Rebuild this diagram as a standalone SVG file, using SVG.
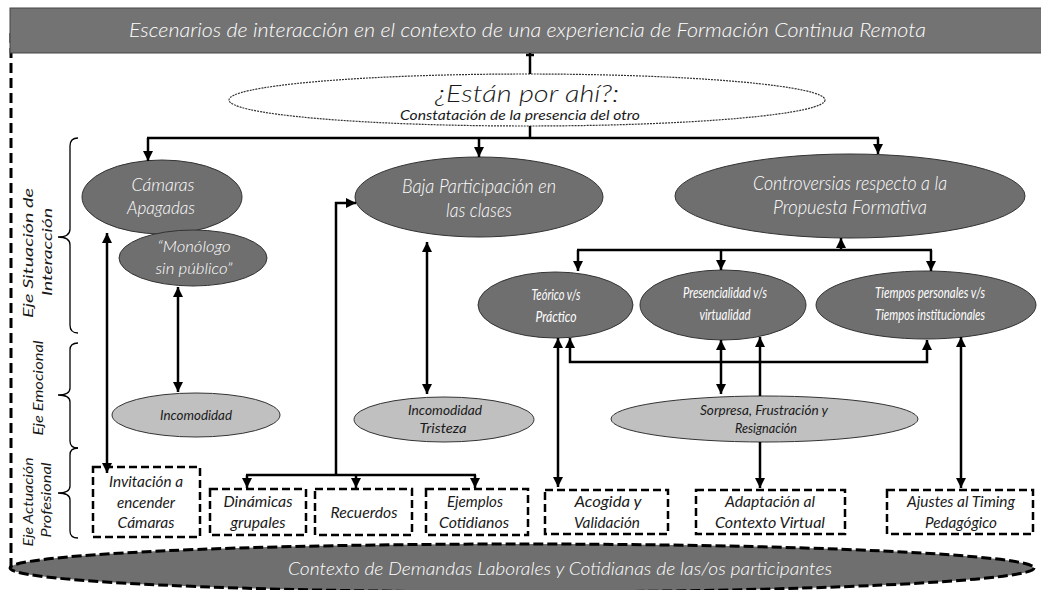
<svg xmlns="http://www.w3.org/2000/svg" width="1041" height="590" viewBox="0 0 1041 590">
<defs>
<style>
.t{font-family:Lato,"Open Sans","Liberation Sans",sans-serif;font-style:italic;text-anchor:middle}
.w{fill:#fff;font-weight:300}
.k{fill:#1a1a1a;font-weight:400}
.w4{font-weight:400}
.k3{font-weight:300}
.dark{fill:#6f6f6f;stroke:#333;stroke-width:1}
.light{fill:#c0c0c0;stroke:#333;stroke-width:1}
.box{fill:#fff;stroke:#000;stroke-width:2.5;stroke-dasharray:8 4}
.ln{fill:none;stroke:#000;stroke-width:2.5}
.br{fill:none;stroke:#000;stroke-width:1.3}
</style>
<marker id="ah" viewBox="0 0 10 10" refX="10" refY="5" markerWidth="10" markerHeight="10" markerUnits="userSpaceOnUse" orient="auto-start-reverse">
<path d="M0,0 L10,5 L0,10 z" fill="#000"/>
</marker>
</defs>
<rect x="0" y="0" width="1041" height="590" fill="#fff"/>

<!-- frame -->
<g id="frame">
<line x1="11" y1="33" x2="11" y2="567" stroke="#000" stroke-width="3" stroke-dasharray="10 5"/>
</g>

<!-- header -->
<g id="header">
<rect x="10" y="8" width="1040" height="45" fill="#737373" stroke="#444" stroke-width="1"/>
<text class="t w" x="527.5" y="37" font-size="19.5" textLength="797" lengthAdjust="spacingAndGlyphs">Escenarios de interacción en el contexto de una experiencia de Formación Continua Remota</text>
</g>

<!-- bottom context -->
<g id="contexto">
<ellipse cx="522" cy="568" rx="512" ry="24" fill="#6f6f6f" stroke="#000" stroke-width="3" stroke-dasharray="10 4"/>
<text class="t w" x="560" y="575" font-size="18" textLength="544" lengthAdjust="spacingAndGlyphs">Contexto de Demandas Laborales y Cotidianas de las/os participantes</text>
</g>

<!-- axis labels and braces -->
<g id="eje-situacion">
<path class="br" d="M78,138 Q70,138 70,146 L70,229 Q70,237 58,237 Q70,237 70,245 L70,325 Q70,333 78,333"/>
<text class="t k" font-size="14" transform="translate(33,253) rotate(-90)" textLength="130" lengthAdjust="spacingAndGlyphs">Eje Situación de</text>
<text class="t k" font-size="14" transform="translate(52,252) rotate(-90)" textLength="88" lengthAdjust="spacingAndGlyphs">Interacción</text>
</g>
<g id="eje-emocional">
<path class="br" d="M78,343 Q70,343 70,350 L70,388 Q70,395 58,395 Q70,395 70,402 L70,441 Q70,448 78,448"/>
<text class="t k" font-size="14" transform="translate(43,388) rotate(-90)" textLength="95" lengthAdjust="spacingAndGlyphs">Eje Emocional</text>
</g>
<g id="eje-actuacion">
<path class="br" d="M78,448 Q70,448 70,455 L70,486 Q70,493 58,493 Q70,493 70,500 L70,531 Q70,538 78,538"/>
<text class="t k" font-size="14" transform="translate(33,502) rotate(-90)" textLength="89" lengthAdjust="spacingAndGlyphs">Eje Actuación</text>
<text class="t k" font-size="14" transform="translate(51,500) rotate(-90)" textLength="75" lengthAdjust="spacingAndGlyphs">Profesional</text>
</g>

<!-- nodes -->
<g id="estan">
<ellipse cx="527" cy="100" rx="298" ry="26" fill="#fff" stroke="#333" stroke-width="1.2" stroke-dasharray="2 1"/>
<text class="t k k3" x="527" y="102" font-size="24" textLength="184" lengthAdjust="spacingAndGlyphs">¿Están por ahí?:</text>
<text class="t k" x="520" y="120" font-size="14" textLength="240" lengthAdjust="spacingAndGlyphs">Constatación de la presencia del otro</text>
</g>

<g id="camaras">
<ellipse class="dark" cx="162" cy="197" rx="80" ry="37"/>
<text class="t w" x="163" y="191" font-size="18" textLength="63" lengthAdjust="spacingAndGlyphs">Cámaras</text>
<text class="t w" x="161" y="214" font-size="18" textLength="68" lengthAdjust="spacingAndGlyphs">Apagadas</text>
</g>
<g id="monologo">
<ellipse class="dark" cx="193" cy="258" rx="74" ry="28"/>
<text class="t w" x="194" y="252" font-size="16" textLength="73" lengthAdjust="spacingAndGlyphs">“Monólogo</text>
<text class="t w" x="194" y="274" font-size="16" textLength="77" lengthAdjust="spacingAndGlyphs">sin público”</text>
</g>
<g id="baja">
<ellipse class="dark" cx="479" cy="197" rx="124" ry="40"/>
<text class="t w" x="479" y="193" font-size="19" textLength="154" lengthAdjust="spacingAndGlyphs">Baja Participación en</text>
<text class="t w" x="479" y="217" font-size="19" textLength="66" lengthAdjust="spacingAndGlyphs">las clases</text>
</g>
<g id="controversias">
<ellipse class="dark" cx="850" cy="196" rx="175" ry="42"/>
<text class="t w" x="850" y="190" font-size="19" textLength="194" lengthAdjust="spacingAndGlyphs">Controversias respecto a la</text>
<text class="t w" x="850" y="214" font-size="19" textLength="154" lengthAdjust="spacingAndGlyphs">Propuesta Formativa</text>
</g>
<g id="teorico">
<ellipse class="dark" cx="555.5" cy="305" rx="77.5" ry="33"/>
<text class="t w w4" x="556" y="300" font-size="15" textLength="49" lengthAdjust="spacingAndGlyphs">Teórico v/s</text>
<text class="t w w4" x="556" y="322" font-size="15" textLength="41" lengthAdjust="spacingAndGlyphs">Práctico</text>
</g>
<g id="presencialidad">
<ellipse class="dark" cx="723" cy="305" rx="83" ry="35"/>
<text class="t w w4" x="725" y="298" font-size="15" textLength="84" lengthAdjust="spacingAndGlyphs">Presencialidad v/s</text>
<text class="t w w4" x="725" y="320" font-size="15" textLength="51" lengthAdjust="spacingAndGlyphs">virtualidad</text>
</g>
<g id="tiempos">
<ellipse class="dark" cx="926" cy="305" rx="110" ry="34"/>
<text class="t w w4" x="930" y="298" font-size="15" textLength="110" lengthAdjust="spacingAndGlyphs">Tiempos personales v/s</text>
<text class="t w w4" x="930" y="320" font-size="15" textLength="110" lengthAdjust="spacingAndGlyphs">Tiempos institucionales</text>
</g>
<g id="incomodidad1">
<ellipse class="light" cx="196" cy="415" rx="84" ry="22"/>
<text class="t k" x="196" y="420" font-size="14" textLength="72" lengthAdjust="spacingAndGlyphs">Incomodidad</text>
</g>
<g id="incomodidad2">
<ellipse class="light" cx="444" cy="419.5" rx="90" ry="22.5"/>
<text class="t k" x="445" y="415" font-size="14" textLength="74" lengthAdjust="spacingAndGlyphs">Incomodidad</text>
<text class="t k" x="443" y="433" font-size="14" textLength="47" lengthAdjust="spacingAndGlyphs">Tristeza</text>
</g>
<g id="sorpresa">
<ellipse class="light" cx="764.5" cy="419" rx="153.5" ry="23"/>
<text class="t k" x="764" y="415" font-size="14" textLength="128" lengthAdjust="spacingAndGlyphs">Sorpresa, Frustración y</text>
<text class="t k" x="766" y="433" font-size="14" textLength="62" lengthAdjust="spacingAndGlyphs">Resignación</text>
</g>

<g id="invitacion">
<rect class="box" x="93" y="467" width="107" height="70"/>
<text class="t k" x="146" y="487" font-size="16" textLength="74" lengthAdjust="spacingAndGlyphs">Invitación a</text>
<text class="t k" x="146" y="508" font-size="16" textLength="58" lengthAdjust="spacingAndGlyphs">encender</text>
<text class="t k" x="146" y="528" font-size="16" textLength="57" lengthAdjust="spacingAndGlyphs">Cámaras</text>
</g>
<g id="dinamicas">
<rect class="box" x="210" y="489" width="96" height="46"/>
<text class="t k" x="258" y="507" font-size="16" textLength="69" lengthAdjust="spacingAndGlyphs">Dinámicas</text>
<text class="t k" x="258" y="528" font-size="16" textLength="55" lengthAdjust="spacingAndGlyphs">grupales</text>
</g>
<g id="recuerdos">
<rect class="box" x="315" y="489" width="97" height="46"/>
<text class="t k" x="364" y="518" font-size="16" textLength="67" lengthAdjust="spacingAndGlyphs">Recuerdos</text>
</g>
<g id="ejemplos">
<rect class="box" x="426" y="489" width="102" height="46"/>
<text class="t k" x="475" y="507" font-size="16" textLength="56" lengthAdjust="spacingAndGlyphs">Ejemplos</text>
<text class="t k" x="474" y="528" font-size="16" textLength="70" lengthAdjust="spacingAndGlyphs">Cotidianos</text>
</g>
<g id="acogida">
<rect class="box" x="545" y="490" width="123" height="44"/>
<text class="t k" x="608" y="507" font-size="16" textLength="67" lengthAdjust="spacingAndGlyphs">Acogida y</text>
<text class="t k" x="607" y="528" font-size="16" textLength="66" lengthAdjust="spacingAndGlyphs">Validación</text>
</g>
<g id="adaptacion">
<rect class="box" x="696" y="490" width="149" height="44"/>
<text class="t k" x="770" y="507" font-size="16" textLength="90" lengthAdjust="spacingAndGlyphs">Adaptación al</text>
<text class="t k" x="770" y="528" font-size="16" textLength="110" lengthAdjust="spacingAndGlyphs">Contexto Virtual</text>
</g>
<g id="ajustes">
<rect class="box" x="887" y="490" width="146" height="44"/>
<text class="t k" x="961" y="507" font-size="16" textLength="108" lengthAdjust="spacingAndGlyphs">Ajustes al Timing</text>
<text class="t k" x="961" y="528" font-size="16" textLength="72" lengthAdjust="spacingAndGlyphs">Pedagógico</text>
</g>

<!-- connectors -->
<g id="connectors">
<line class="ln" x1="530" y1="53" x2="530" y2="74"/>
<line class="ln" x1="526" y1="55" x2="534" y2="55"/>
<line class="ln" x1="530" y1="126" x2="530" y2="138"/>
<line class="ln" x1="147" y1="138" x2="879" y2="138"/>
<line class="ln" x1="148" y1="138" x2="148" y2="161" marker-end="url(#ah)"/>
<line class="ln" x1="479" y1="138" x2="479" y2="157" marker-end="url(#ah)"/>
<line class="ln" x1="878" y1="138" x2="878" y2="154" marker-end="url(#ah)"/>

<line class="ln" x1="107" y1="233" x2="107" y2="473" marker-start="url(#ah)" marker-end="url(#ah)"/>
<line class="ln" x1="178" y1="287" x2="178" y2="392" marker-start="url(#ah)" marker-end="url(#ah)"/>
<line class="ln" x1="427" y1="242" x2="427" y2="394" marker-start="url(#ah)" marker-end="url(#ah)"/>

<line class="ln" x1="246" y1="475" x2="476" y2="475"/>
<line class="ln" x1="247" y1="475" x2="247" y2="488" marker-end="url(#ah)"/>
<line class="ln" x1="356" y1="475" x2="356" y2="488" marker-end="url(#ah)"/>
<line class="ln" x1="475" y1="475" x2="475" y2="488" marker-end="url(#ah)"/>
<polyline class="ln" points="336,475 336,203 356,203" marker-end="url(#ah)"/>

<line class="ln" x1="577" y1="250" x2="932" y2="250"/>
<line class="ln" x1="841" y1="250" x2="841" y2="238" marker-end="url(#ah)"/>
<line class="ln" x1="578" y1="250" x2="578" y2="271" marker-end="url(#ah)"/>
<line class="ln" x1="721" y1="250" x2="721" y2="270" marker-end="url(#ah)"/>
<line class="ln" x1="931" y1="250" x2="931" y2="271" marker-end="url(#ah)"/>

<line class="ln" x1="558" y1="338" x2="558" y2="487" marker-start="url(#ah)" marker-end="url(#ah)"/>
<polyline class="ln" points="570,338 570,362 927,362 927,340" marker-start="url(#ah)" marker-end="url(#ah)"/>
<line class="ln" x1="721" y1="340" x2="721" y2="394" marker-start="url(#ah)" marker-end="url(#ah)"/>
<line class="ln" x1="760" y1="337" x2="760" y2="396" marker-start="url(#ah)"/>
<line class="ln" x1="760" y1="442" x2="760" y2="488" marker-end="url(#ah)"/>
<line class="ln" x1="961" y1="337" x2="961" y2="488" marker-start="url(#ah)" marker-end="url(#ah)"/>
</g>
</svg>
